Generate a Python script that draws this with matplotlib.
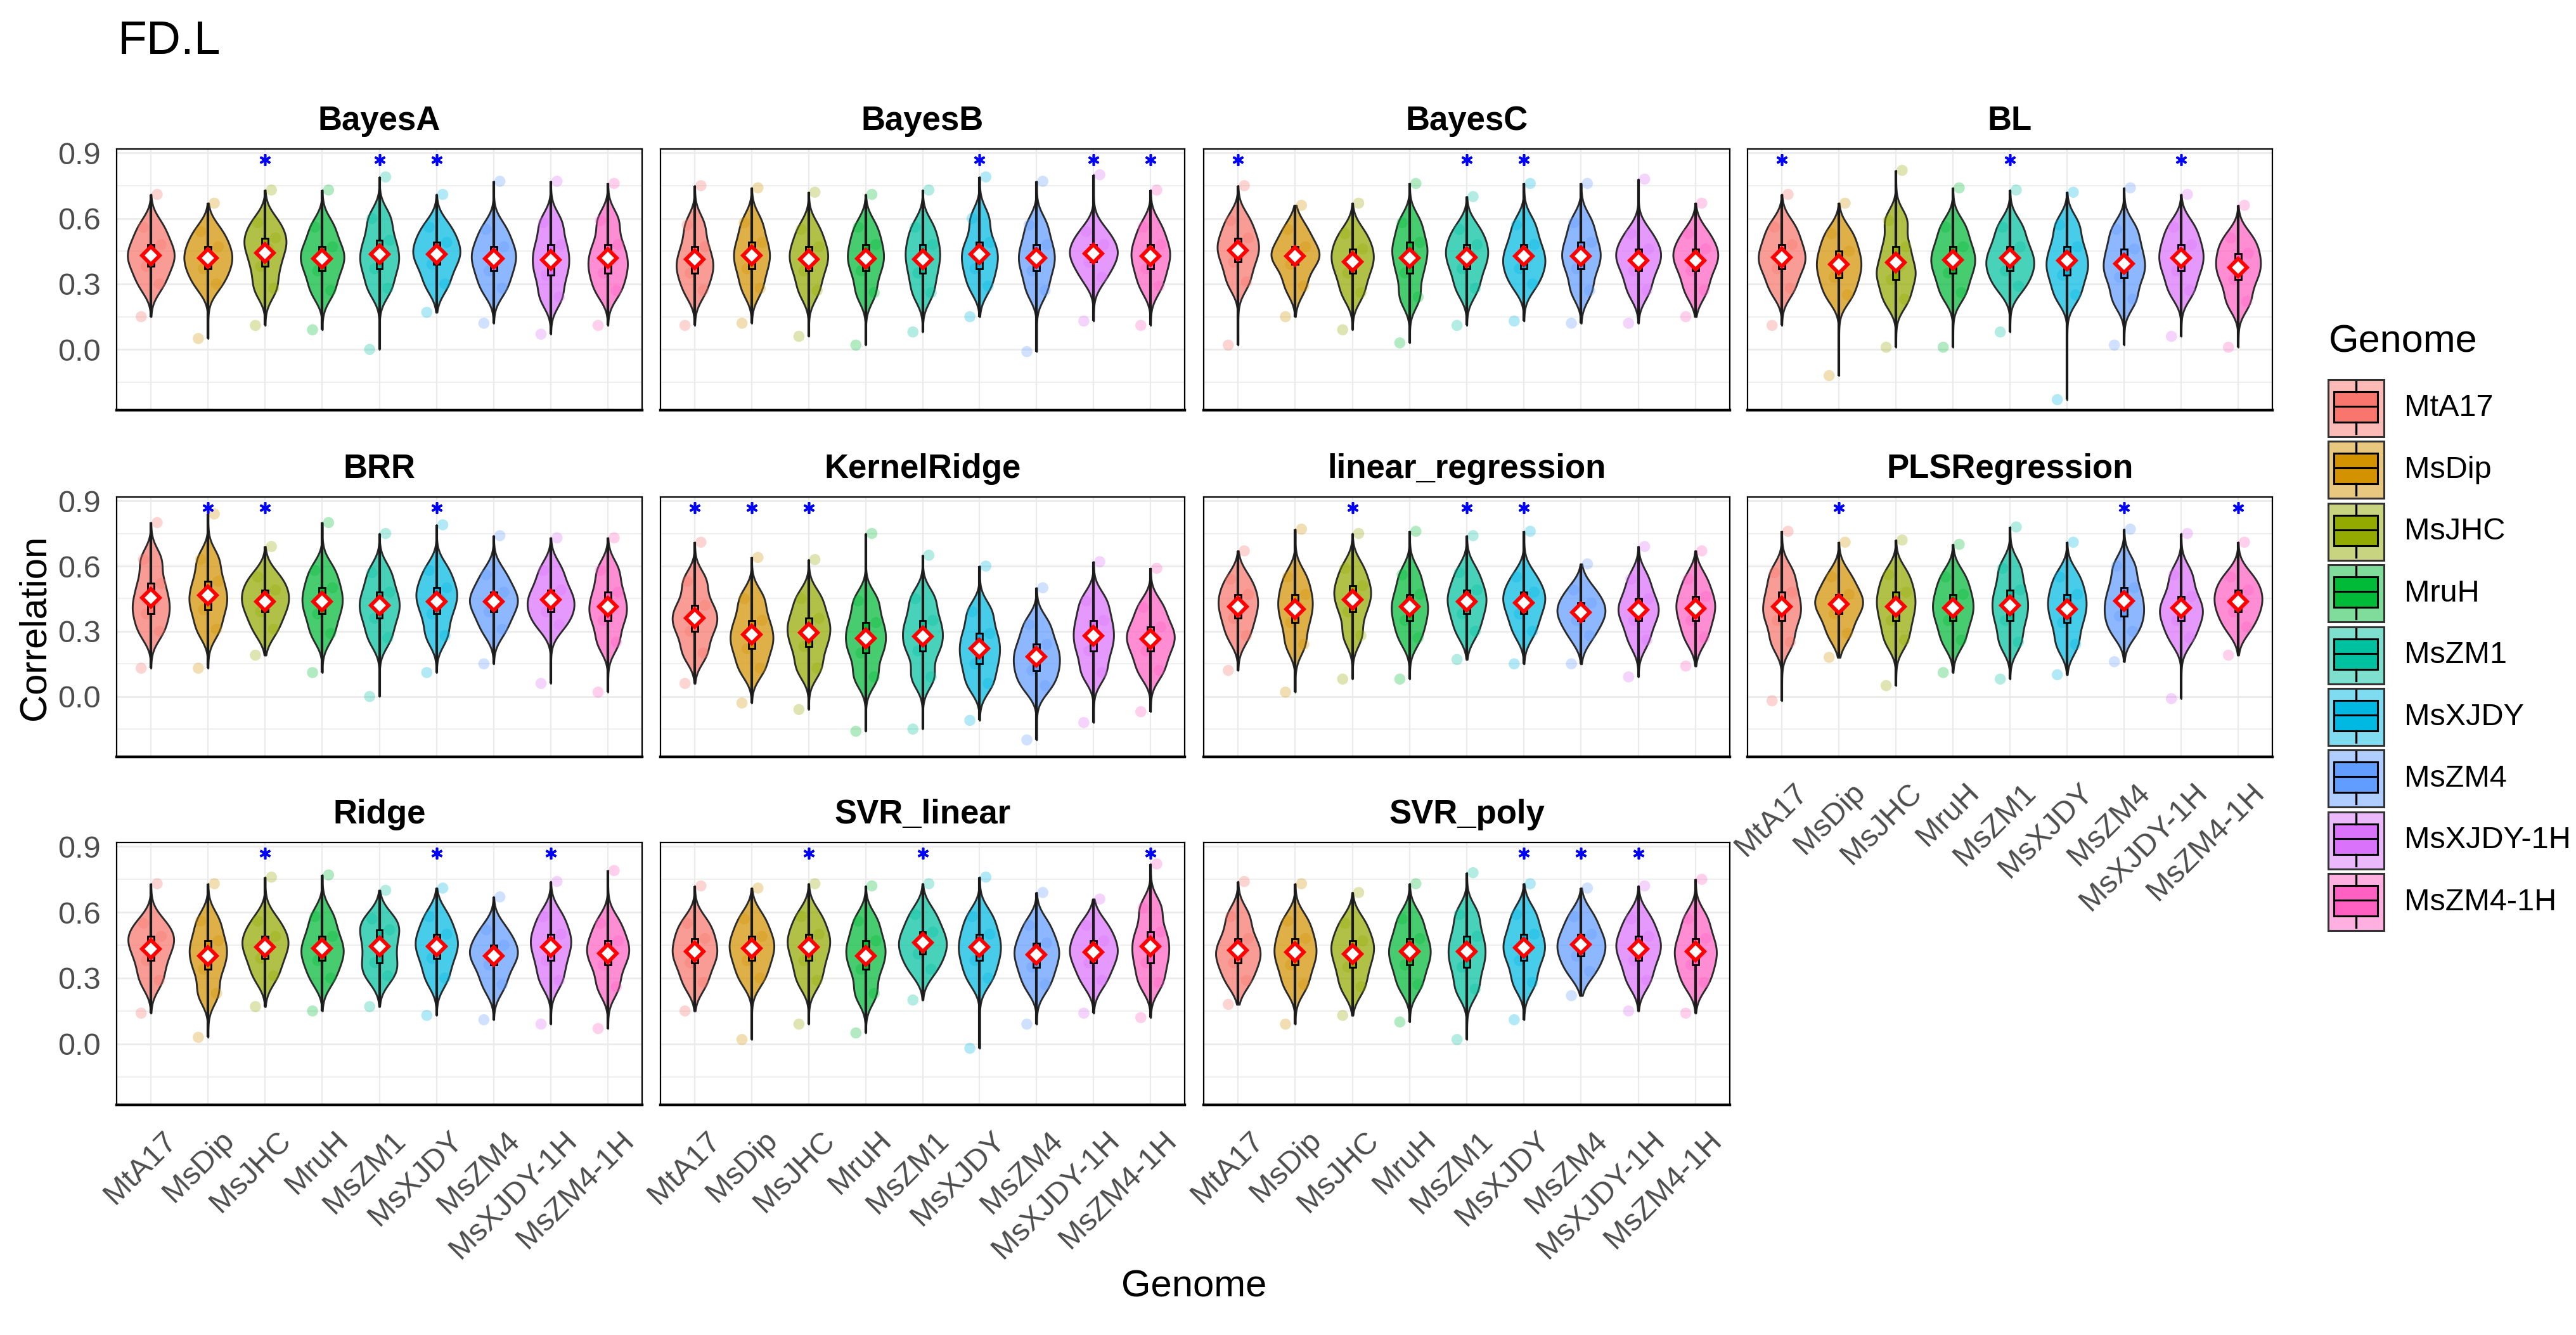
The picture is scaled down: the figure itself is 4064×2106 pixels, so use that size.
import numpy as np
import matplotlib
matplotlib.use('Agg')
import matplotlib.pyplot as plt
from matplotlib.patches import Rectangle
import matplotlib.transforms as mtransforms

plt.rcParams['font.family'] = ['Liberation Sans', 'DejaVu Sans']

genomes = ['MtA17', 'MsDip', 'MsJHC', 'MruH', 'MsZM1', 'MsXJDY', 'MsZM4', 'MsXJDY-1H', 'MsZM4-1H']
colors = ['#F8766D', '#D39200', '#93AA00', '#00BA38', '#00C19F', '#00B9E3', '#619CFF', '#DB72FB', '#FF61C3']
models = ['BayesA', 'BayesB', 'BayesC', 'BL', 'BRR', 'KernelRidge', 'linear_regression',
          'PLSRegression', 'Ridge', 'SVR_linear', 'SVR_poly']

# per genome: [min, p10, p30, p50, p70, p90, max] of the correlation values
BayesA = [[0.15, 0.30, 0.38, 0.43, 0.48, 0.56, 0.71],
          [0.05, 0.30, 0.37, 0.42, 0.47, 0.54, 0.67],
          [0.11, 0.28, 0.38, 0.46, 0.51, 0.58, 0.73],
          [0.09, 0.27, 0.36, 0.42, 0.47, 0.56, 0.73],
          [0.00, 0.28, 0.37, 0.43, 0.50, 0.60, 0.79],
          [0.17, 0.30, 0.39, 0.44, 0.49, 0.56, 0.71],
          [0.12, 0.28, 0.36, 0.42, 0.47, 0.55, 0.77],
          [0.07, 0.24, 0.34, 0.41, 0.48, 0.58, 0.77],
          [0.11, 0.27, 0.35, 0.41, 0.48, 0.59, 0.76]]
BayesB = [[0.11, 0.27, 0.35, 0.40, 0.47, 0.57, 0.75],
          [0.12, 0.28, 0.37, 0.43, 0.49, 0.58, 0.74],
          [0.06, 0.27, 0.36, 0.42, 0.47, 0.55, 0.72],
          [0.02, 0.26, 0.36, 0.42, 0.48, 0.56, 0.71],
          [0.08, 0.26, 0.35, 0.42, 0.48, 0.56, 0.73],
          [0.15, 0.29, 0.37, 0.43, 0.49, 0.60, 0.79],
          [-0.01, 0.27, 0.36, 0.42, 0.48, 0.57, 0.77],
          [0.13, 0.33, 0.40, 0.44, 0.48, 0.54, 0.80],
          [0.11, 0.29, 0.37, 0.43, 0.48, 0.56, 0.73]]
BayesC = [[0.02, 0.31, 0.40, 0.46, 0.51, 0.59, 0.75],
          [0.15, 0.29, 0.39, 0.43, 0.47, 0.55, 0.66],
          [0.09, 0.26, 0.35, 0.41, 0.46, 0.53, 0.67],
          [0.03, 0.24, 0.35, 0.43, 0.49, 0.58, 0.76],
          [0.11, 0.28, 0.37, 0.43, 0.48, 0.55, 0.70],
          [0.13, 0.30, 0.37, 0.42, 0.48, 0.57, 0.76],
          [0.12, 0.27, 0.37, 0.43, 0.49, 0.58, 0.76],
          [0.12, 0.27, 0.36, 0.42, 0.46, 0.53, 0.78],
          [0.15, 0.27, 0.36, 0.42, 0.46, 0.53, 0.67]]
BL = [[0.11, 0.28, 0.37, 0.42, 0.48, 0.56, 0.71],
      [-0.12, 0.25, 0.33, 0.39, 0.45, 0.53, 0.67],
      [0.01, 0.23, 0.32, 0.38, 0.47, 0.59, 0.82],
      [0.01, 0.26, 0.35, 0.41, 0.47, 0.56, 0.74],
      [0.08, 0.29, 0.36, 0.41, 0.47, 0.56, 0.73],
      [-0.23, 0.25, 0.34, 0.40, 0.47, 0.57, 0.72],
      [0.02, 0.23, 0.33, 0.39, 0.46, 0.55, 0.74],
      [0.06, 0.27, 0.36, 0.42, 0.48, 0.56, 0.71],
      [0.01, 0.22, 0.32, 0.38, 0.44, 0.51, 0.66]]
BRR = [[0.13, 0.30, 0.38, 0.44, 0.52, 0.63, 0.80],
       [0.13, 0.31, 0.40, 0.46, 0.53, 0.63, 0.84],
       [0.19, 0.31, 0.39, 0.44, 0.49, 0.55, 0.69],
       [0.11, 0.29, 0.38, 0.44, 0.50, 0.58, 0.80],
       [0.00, 0.27, 0.36, 0.42, 0.48, 0.57, 0.75],
       [0.11, 0.28, 0.38, 0.45, 0.50, 0.58, 0.79],
       [0.15, 0.31, 0.39, 0.44, 0.48, 0.56, 0.74],
       [0.06, 0.33, 0.39, 0.44, 0.49, 0.58, 0.73],
       [0.02, 0.25, 0.35, 0.41, 0.48, 0.58, 0.73]]
KernelRidge = [[0.06, 0.20, 0.30, 0.36, 0.42, 0.53, 0.71],
               [-0.03, 0.13, 0.22, 0.28, 0.35, 0.45, 0.64],
               [-0.06, 0.13, 0.23, 0.30, 0.36, 0.45, 0.63],
               [-0.16, 0.09, 0.20, 0.27, 0.34, 0.44, 0.75],
               [-0.15, 0.09, 0.21, 0.28, 0.35, 0.45, 0.65],
               [-0.11, 0.06, 0.15, 0.22, 0.29, 0.39, 0.60],
               [-0.20, 0.05, 0.12, 0.18, 0.24, 0.33, 0.50],
               [-0.12, 0.11, 0.21, 0.28, 0.35, 0.44, 0.62],
               [-0.07, 0.12, 0.21, 0.27, 0.32, 0.41, 0.59]]
linear_regression = [[0.12, 0.28, 0.36, 0.42, 0.47, 0.54, 0.67],
                     [0.02, 0.24, 0.34, 0.41, 0.47, 0.55, 0.77],
                     [0.08, 0.28, 0.39, 0.46, 0.51, 0.59, 0.75],
                     [0.08, 0.27, 0.35, 0.41, 0.47, 0.56, 0.76],
                     [0.17, 0.30, 0.38, 0.44, 0.49, 0.57, 0.74],
                     [0.15, 0.30, 0.38, 0.44, 0.48, 0.55, 0.76],
                     [0.15, 0.28, 0.35, 0.39, 0.43, 0.49, 0.61],
                     [0.09, 0.26, 0.35, 0.40, 0.45, 0.54, 0.69],
                     [0.14, 0.27, 0.35, 0.41, 0.46, 0.54, 0.67]]
PLSRegression = [[-0.02, 0.25, 0.35, 0.41, 0.48, 0.57, 0.76],
                 [0.18, 0.29, 0.38, 0.43, 0.47, 0.55, 0.71],
                 [0.05, 0.26, 0.35, 0.42, 0.48, 0.56, 0.72],
                 [0.11, 0.26, 0.35, 0.41, 0.47, 0.55, 0.70],
                 [0.08, 0.25, 0.35, 0.42, 0.49, 0.59, 0.78],
                 [0.10, 0.24, 0.34, 0.41, 0.47, 0.55, 0.71],
                 [0.16, 0.30, 0.37, 0.43, 0.50, 0.60, 0.77],
                 [-0.01, 0.27, 0.35, 0.40, 0.46, 0.56, 0.75],
                 [0.19, 0.32, 0.39, 0.44, 0.49, 0.55, 0.71]]
Ridge = [[0.14, 0.29, 0.38, 0.45, 0.49, 0.55, 0.73],
         [0.03, 0.23, 0.34, 0.41, 0.47, 0.56, 0.73],
         [0.17, 0.31, 0.39, 0.45, 0.49, 0.56, 0.76],
         [0.15, 0.30, 0.38, 0.43, 0.49, 0.58, 0.77],
         [0.17, 0.31, 0.37, 0.45, 0.52, 0.57, 0.70],
         [0.13, 0.30, 0.39, 0.45, 0.50, 0.58, 0.71],
         [0.11, 0.27, 0.36, 0.41, 0.45, 0.52, 0.67],
         [0.09, 0.29, 0.38, 0.45, 0.50, 0.58, 0.74],
         [0.07, 0.26, 0.36, 0.42, 0.47, 0.55, 0.79]]
SVR_linear = [[0.15, 0.28, 0.37, 0.42, 0.48, 0.55, 0.72],
              [0.02, 0.30, 0.38, 0.44, 0.49, 0.57, 0.71],
              [0.09, 0.29, 0.38, 0.45, 0.50, 0.58, 0.73],
              [0.05, 0.23, 0.34, 0.41, 0.47, 0.56, 0.72],
              [0.20, 0.34, 0.41, 0.46, 0.51, 0.59, 0.73],
              [-0.02, 0.30, 0.38, 0.44, 0.50, 0.58, 0.76],
              [0.09, 0.27, 0.35, 0.41, 0.46, 0.54, 0.69],
              [0.14, 0.29, 0.37, 0.42, 0.47, 0.54, 0.66],
              [0.12, 0.28, 0.37, 0.44, 0.51, 0.62, 0.82]]
SVR_poly = [[0.18, 0.29, 0.37, 0.42, 0.48, 0.58, 0.74],
            [0.09, 0.27, 0.36, 0.42, 0.48, 0.56, 0.73],
            [0.13, 0.26, 0.35, 0.42, 0.47, 0.55, 0.69],
            [0.10, 0.27, 0.36, 0.42, 0.48, 0.57, 0.73],
            [0.02, 0.25, 0.35, 0.42, 0.49, 0.59, 0.78],
            [0.11, 0.28, 0.38, 0.44, 0.50, 0.59, 0.73],
            [0.22, 0.33, 0.40, 0.45, 0.50, 0.58, 0.71],
            [0.15, 0.29, 0.38, 0.44, 0.49, 0.57, 0.72],
            [0.14, 0.28, 0.36, 0.42, 0.48, 0.57, 0.75]]

model_data = {'BayesA': BayesA, 'BayesB': BayesB, 'BayesC': BayesC, 'BL': BL, 'BRR': BRR,
              'KernelRidge': KernelRidge, 'linear_regression': linear_regression,
              'PLSRegression': PLSRegression, 'Ridge': Ridge, 'SVR_linear': SVR_linear,
              'SVR_poly': SVR_poly}

# genomes marked with a blue star, per model (indices into genomes)
star_idx = {'BayesA': [2, 4, 5], 'BayesB': [5, 7, 8], 'BayesC': [0, 4, 5], 'BL': [0, 4, 7],
            'BRR': [1, 2, 5], 'KernelRidge': [0, 1, 2], 'linear_regression': [2, 4, 5],
            'PLSRegression': [1, 6, 8], 'Ridge': [2, 5, 7], 'SVR_linear': [2, 4, 8],
            'SVR_poly': [5, 6, 7]}
star_y = 0.868

W, H = 4064, 2106
fig = plt.figure(figsize=(W / 100, H / 100), dpi=100)
fig.patch.set_facecolor('white')

col_x = [(184, 1013), (1042, 1869), (1899, 2729), (2757, 3585)]
row_y = [(235, 647), (784, 1194), (1329, 1743)]

BW = 0.055
jit = [-0.17, 0.15, -0.08, 0.06, 0.18, -0.13, 0.11]
TICK_C = '#4D4D4D'


def kde(vals, grid):
    v = np.asarray(vals)[:, None]
    return np.exp(-0.5 * ((grid[None, :] - v) / BW) ** 2).sum(axis=0) / (len(vals) * BW * np.sqrt(2 * np.pi))


for k, model in enumerate(models):
    r, c = divmod(k, 4)
    x0, x1 = col_x[c]
    y0, y1 = row_y[r]
    ax = fig.add_axes([x0 / W, 1 - y1 / H, (x1 - x0) / W, (y1 - y0) / H])
    ax.set_xlim(0.4, 9.6)
    ax.set_ylim(-0.278, 0.918)
    ax.set_xticks(np.arange(1, 10))
    ax.set_yticks([0.0, 0.3, 0.6, 0.9])
    ax.set_yticks([-0.15, 0.15, 0.45, 0.75], minor=True)
    ax.grid(which='major', axis='y', color='#EBEBEB', lw=2.0)
    ax.grid(which='minor', axis='y', color='#EBEBEB', lw=1.1)
    ax.grid(which='major', axis='x', color='#EBEBEB', lw=1.6)
    ax.set_axisbelow(True)
    ax.tick_params(which='both', length=0)
    for s in ['top', 'left', 'right']:
        ax.spines[s].set_linewidth(1.6)
        ax.spines[s].set_color('black')
    ax.spines['bottom'].set_linewidth(3.2)
    ax.spines['bottom'].set_color('black')

    data = model_data[model]
    dens_list = []
    grids = []
    for vals in data:
        g = np.linspace(vals[0], vals[-1], 300)
        grids.append(g)
        dens_list.append(kde(vals[1:6], g))
    dmax = max(d.max() for d in dens_list)

    for i, vals in enumerate(data):
        x = i + 1
        col = colors[i]
        hw = dens_list[i] / dmax * 0.42
        g = grids[i]
        ax.fill_betweenx(g, x - hw, x + hw, facecolor=matplotlib.colors.to_rgba(col, 0.72),
                         edgecolor='#2B2B2B', lw=2.1, zorder=2)
        ax.scatter([x + j for j in jit], vals, s=160, color=col, alpha=0.3,
                   edgecolors='none', zorder=3)
        lo, q1, med, q3, hi = vals[0], vals[2], vals[3], vals[4], vals[6]
        ax.plot([x, x], [lo, hi], color='#1A1A1A', lw=3.0, zorder=4, solid_capstyle='butt')
        ax.add_patch(Rectangle((x - 0.055, q1), 0.11, q3 - q1, facecolor=col,
                               edgecolor='black', lw=2.0, zorder=5))
        ax.plot([x - 0.055, x + 0.055], [med, med], color='black', lw=2.4, zorder=6)
        m = float(np.mean(vals[1:6]))
        ax.plot([x], [m], marker='D', ms=14.5, mfc='white', mec='red', mew=4.2, zorder=7)
    for i in star_idx[model]:
        ax.plot([i + 1], [star_y], marker=(6, 2, 0), ms=13, color='blue', mew=2.6, zorder=8)

    t = ax.text(0.5, 1.0, model, ha='center', va='baseline',
                fontsize=38, fontweight='bold', color='black')
    t.set_transform(ax.transAxes + mtransforms.ScaledTranslation(0, 30 / 100, fig.dpi_scale_trans))

    if c == 0:
        ax.set_yticklabels(['0.0', '0.3', '0.6', '0.9'], fontsize=35, color=TICK_C)
        ax.tick_params(axis='y', pad=18)
    else:
        ax.tick_params(axis='y', labelleft=False)

    if r == 2 or (r == 1 and c == 3):
        ax.set_xticklabels(genomes, rotation=45, ha='right', va='top', rotation_mode='anchor',
                           fontsize=35, color=TICK_C)
        ax.tick_params(axis='x', pad=24)
        off = mtransforms.ScaledTranslation(18 / 100, 0, fig.dpi_scale_trans)
        for lab in ax.get_xticklabels():
            lab.set_transform(lab.get_transform() + off)
    else:
        ax.tick_params(axis='x', labelbottom=False)

# overlay for titles and legend, in pixel coordinates
ov = fig.add_axes([0, 0, 1, 1])
ov.set_xlim(0, W)
ov.set_ylim(H, 0)
ov.axis('off')
ov.patch.set_alpha(0)

ov.text(186, 85, 'FD.L', fontsize=54, ha='left', va='baseline', color='black')
ov.text(1884, 2030, 'Genome', fontsize=43, ha='center', va='center', color='black')
ov.text(55, 990, 'Correlation', fontsize=43, ha='center', va='center', rotation=90, color='black')

ov.text(3674, 540, 'Genome', fontsize=44, ha='left', va='center', color='black')
for i, (gname, col) in enumerate(zip(genomes, colors)):
    top = 599 + i * 97.4
    ov.add_patch(Rectangle((3673, top), 88, 90, facecolor=matplotlib.colors.to_rgba(col, 0.5),
                           edgecolor='#333333', lw=2.2))
    ov.add_patch(Rectangle((3682, top + 19), 69, 48, facecolor=col, edgecolor='black', lw=2.2))
    ov.plot([3682, 3751], [top + 42, top + 42], color='black', lw=2.2)
    ov.plot([3717, 3717], [top + 3, top + 19], color='black', lw=2.4)
    ov.plot([3717, 3717], [top + 67, top + 85], color='black', lw=2.4)
    ov.text(3793, top + 45, gname, fontsize=35, ha='left', va='center', color='black')

fig.savefig('out.png', dpi=100, facecolor='white')
